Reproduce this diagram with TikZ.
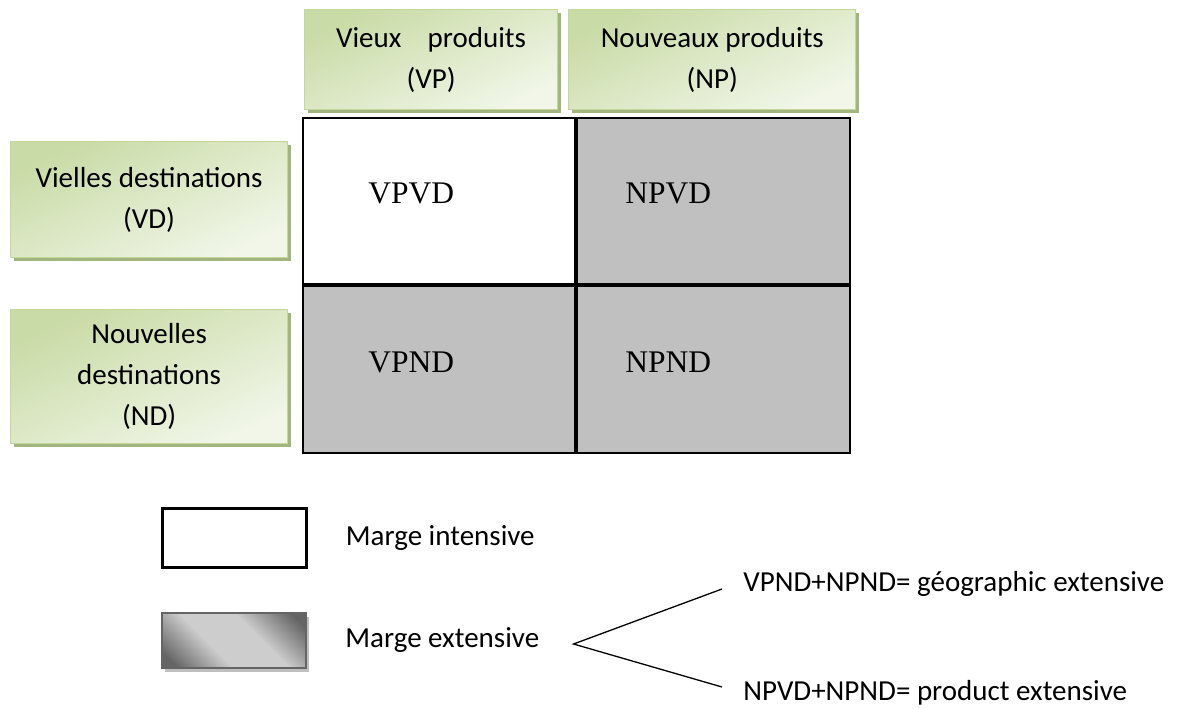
\documentclass[tikz,border=0pt]{standalone}
\usepackage{fontspec}
\setmainfont{Carlito}
\newfontfamily\cellfamily{Liberation Serif}
\usetikzlibrary{positioning,shadows}

\definecolor{leafline}{HTML}{C3D69B}
\definecolor{leafdark}{HTML}{C9DBA6}
\definecolor{leaflight}{HTML}{F1F6E8}
\definecolor{leafshadow}{HTML}{A3B57F}
\definecolor{cellgrey}{HTML}{C0C0C0}
\definecolor{bardark}{HTML}{656565}
\definecolor{barlight}{HTML}{CDCDCD}
\pgfdeclarehorizontalshading{steelbar}{100bp}{color(0bp)=(bardark); color(20bp)=(bardark); color(40bp)=(barlight); color(60bp)=(barlight); color(80bp)=(bardark); color(100bp)=(bardark)}

\newcommand{\boxfont}{\fontsize{29pt}{41pt}\selectfont}
\newcommand{\cellfont}{\cellfamily\fontsize{31.5pt}{36pt}\selectfont}

\begin{document}
\begin{tikzpicture}[x=1pt, y=-1pt, thick, font=\boxfont,
    head/.style={draw=leafline, line width=1.2pt, top color=leafdark, bottom color=leaflight, shading angle=25, align=center, inner sep=0pt, drop shadow={shadow xshift=3pt, shadow yshift=-3pt, fill=leafshadow, opacity=1}},
    cell/.style={draw, line width=2pt, inner sep=0pt},
    celltext/.style={font=\cellfont, inner sep=0pt, anchor=west},
    legendtext/.style={inner sep=0pt},
    fork/.style={line width=1.3pt}]
        \useasboundingbox (0,0) rectangle (1186,709);

        % Headers
        \node (vp) [head, minimum width=253pt, minimum height=100pt, anchor=north west] at (304,9) {Vieux\ \ \ \ produits\\(VP)};
        \node (np) [head, minimum width=287pt, minimum height=100pt, right=10pt of vp] {Nouveaux produits\\(NP)};
        \node (vd) [head, minimum width=277pt, minimum height=116pt, anchor=north west] at (10,141) {Vielles destinations\\(VD)};
        \node (nd) [head, minimum width=277pt, minimum height=134pt, below=51pt of vd] {Nouvelles\\destinations\\(ND)};

        % Grid
        \node (vpvd) [cell, fill=white, minimum width=272pt, minimum height=166pt, anchor=north west] at (302,117) {};
        \node (npvd) [cell, fill=cellgrey, minimum width=273pt, minimum height=166pt, anchor=north west] at (vpvd.north east) {};
        \node (vpnd) [cell, fill=cellgrey, minimum width=272pt, minimum height=167pt, anchor=north west] at (vpvd.south west) {};
        \node (npnd) [cell, fill=cellgrey, minimum width=273pt, minimum height=167pt, anchor=north west] at (vpvd.south east) {};
        \node (vpvdtxt) [celltext] at ([xshift=66pt, yshift=7.5pt]vpvd.west) {VPVD};
        \node (npvdtxt) [celltext] at ([xshift=49pt, yshift=7.5pt]npvd.west) {NPVD};
        \node (vpndtxt) [celltext] at ([xshift=66pt, yshift=7.5pt]vpnd.west) {VPND};
        \node (npndtxt) [celltext] at ([xshift=49pt, yshift=7.5pt]npnd.west) {NPND};

        % Legend
        \node (intbox) [draw, line width=2.5pt, fill=white, minimum width=144pt, minimum height=59pt, anchor=north west, drop shadow={shadow xshift=1pt, shadow yshift=-1.5pt, fill=black!20, opacity=1}] at (161,507) {};
        \node (intlabel) [legendtext, right=38pt of intbox] {Marge intensive};
        \node (extbox) [draw=bardark, line width=2pt, shading=steelbar, shading angle=45, minimum width=144pt, minimum height=55pt, anchor=north west, drop shadow={shadow xshift=3pt, shadow yshift=-4pt, fill=black!25, opacity=1}] at (161,612) {};
        \node (extlabel) [legendtext, right=38pt of extbox] {Marge extensive};
        \node (geo) [legendtext, anchor=base west] at (743,591) {VPND+NPND= géographic extensive};
        \node (prod) [legendtext, anchor=base west] at (743,700) {NPVD+NPND= product extensive};

        % Edges
        \coordinate (split) at ([xshift=34pt, yshift=-3.5pt]extlabel.east);
        \coordinate (geoend) at ([xshift=-21pt, yshift=2pt]geo.base west);
        \coordinate (prodend) at ([xshift=-21pt, yshift=13pt]prod.base west);
        \draw[fork] (geoend) -- (split) -- (prodend);
    \end{tikzpicture}
\end{document}
